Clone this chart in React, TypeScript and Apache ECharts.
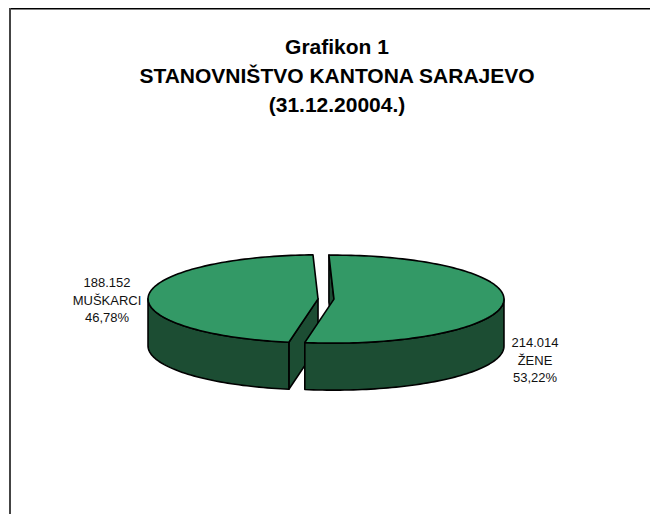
import React, { useEffect, useRef } from 'react';
import * as echarts from 'echarts';

// ---- data ----
const categories = ['ŽENE', 'MUŠKARCI'];
const values = [214014, 188152];
const titleLines = ['Grafikon 1', 'STANOVNIŠTVO KANTONA SARAJEVO', '(31.12.20004.)'];

// ---- layout / style constants ----
const CX = 326;
const CY = 299;
const RX = 170;
const RY = 44;
const DEPTH = 47;
const EXPLODE = 0.047;
const START_DEG = -1.7;
const TOP_COLOR = '#339966';
const SIDE_COLOR = '#1c4d33';
const EDGE = '#000000';
const LABEL_POS: number[][] = [
  [535, 360],
  [107, 300],
];
const FONT = '"Liberation Sans", Arial, sans-serif';

const total = values.reduce((s, v) => s + v, 0);
const fmtThousands = (v: number) => String(v).replace(/\B(?=(\d{3})+(?!\d))/g, '.');
const fmtPct = (v: number) => ((v / total) * 100).toFixed(2).replace('.', ',') + '%';

export default function App() {
  const ref = useRef<HTMLDivElement>(null);

  useEffect(() => {
    if (!ref.current) return;
    const chart = echarts.init(ref.current, undefined, { renderer: 'svg' });

    const renderItem = (params: any, api: any) => {
      const i = params.dataIndex;
      const v = api.value(0);
      let start = 0;
      for (let k = 0; k < i; k++) start += values[k];
      const off = (START_DEG * Math.PI) / 180;
      const t1 = off + (start / total) * Math.PI * 2;
      const t2 = off + ((start + v) / total) * Math.PI * 2;
      const m = (t1 + t2) / 2;
      const ox = CX + RX * EXPLODE * Math.sin(m);
      const oy = CY - RY * EXPLODE * Math.cos(m);
      const P = (t: number, dz = 0) => [ox + RX * Math.sin(t), oy - RY * Math.cos(t) + dz];
      const arc = (a0: number, a1: number, dz: number) => {
        const n = Math.max(2, Math.ceil(Math.abs(a1 - a0) / (Math.PI / 120)));
        const pts: number[][] = [];
        for (let j = 0; j <= n; j++) pts.push(P(a0 + ((a1 - a0) * j) / n, dz));
        return pts;
      };
      const frontness = -Math.cos(m);
      const base = Math.round((frontness + 1) * 100) * 10;
      const edgeStyle = { stroke: EDGE, lineWidth: 1.6, lineJoin: 'round' };
      const apexTop = [ox, oy];
      const apexBot = [ox, oy + DEPTH];
      const children: any[] = [];

      // start cut face
      if (Math.sin(t1) < -1e-6) {
        children.push({
          type: 'polygon',
          z2: base,
          shape: { points: [apexTop, P(t1), P(t1, DEPTH), apexBot] },
          style: { fill: SIDE_COLOR, ...edgeStyle },
        });
      }
      // end cut face
      if (Math.sin(t2) > 1e-6) {
        children.push({
          type: 'polygon',
          z2: base,
          shape: { points: [apexTop, P(t2), P(t2, DEPTH), apexBot] },
          style: { fill: SIDE_COLOR, ...edgeStyle },
        });
      }
      // outer front wall
      const lo = Math.max(t1, Math.PI / 2);
      const hi = Math.min(t2, (Math.PI * 3) / 2);
      if (hi > lo) {
        const topPts = arc(lo, hi, 0);
        const botPts = arc(hi, lo, DEPTH);
        children.push({
          type: 'polygon',
          z2: base + 1,
          shape: { points: topPts.concat(botPts) },
          style: { fill: SIDE_COLOR, ...edgeStyle },
        });
      }
      // top face
      children.push({
        type: 'polygon',
        z2: base + 2,
        shape: { points: [apexTop].concat(arc(t1, t2, 0)) },
        style: { fill: TOP_COLOR, ...edgeStyle },
      });
      // label
      const lp = LABEL_POS[i];
      children.push({
        type: 'text',
        z2: 5000,
        x: lp[0],
        y: lp[1],
        style: {
          text: `${fmtThousands(v)}\n${categories[i]}\n${fmtPct(v)}`,
          fill: '#111111',
          fontSize: 13,
          fontFamily: FONT,
          lineHeight: 17.5,
          align: 'center',
          textAlign: 'center',
          verticalAlign: 'middle',
          textVerticalAlign: 'middle',
        },
      });
      return { type: 'group', children };
    };

    chart.setOption({
      animation: false,
      backgroundColor: '#ffffff',
      graphic: [
        {
          type: 'line',
          shape: { x1: 9, y1: 8.7, x2: 660, y2: 8.7 },
          style: { stroke: '#000000', lineWidth: 1.6 },
        },
        {
          type: 'line',
          shape: { x1: 10, y1: 8, x2: 10, y2: 520 },
          style: { stroke: '#444444', lineWidth: 2 },
        },
        {
          type: 'text',
          x: 337,
          y: 75,
          style: {
            text: titleLines.join('\n'),
            fill: '#000000',
            fontSize: 21,
            fontWeight: 'bold',
            fontFamily: FONT,
            lineHeight: 29,
            align: 'center',
            textAlign: 'center',
            verticalAlign: 'middle',
            textVerticalAlign: 'middle',
          },
        },
      ],
      series: [
        {
          type: 'custom',
          coordinateSystem: 'none',
          renderItem,
          data: values.map((v, i) => ({ name: categories[i], value: v })),
        },
      ],
    });

    return () => chart.dispose();
  }, []);

  return (
    <div
      ref={ref}
      style={{ position: 'absolute', left: 0, top: 0, width: 650, height: 514, background: '#fff' }}
    />
  );
}
